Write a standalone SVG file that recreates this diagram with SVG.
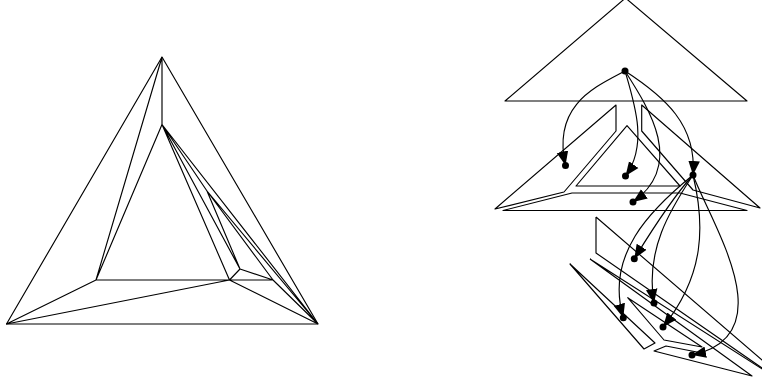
<svg xmlns="http://www.w3.org/2000/svg" width="762" height="383" viewBox="0 0 762 383">
<style>
.s{fill:none;stroke:#000;stroke-width:1.15;stroke-linejoin:round}
.c{fill:none;stroke:#000;stroke-width:1.15;marker-end:url(#a)}
.n{fill:#000;stroke:none}
</style>
<defs>
<marker id="a" markerUnits="userSpaceOnUse" markerWidth="16" markerHeight="14" refX="14" refY="7" orient="auto">
<path d="M0,1.2 L14,7 L0,12.8 Z" fill="#000"/>
</marker>
</defs>
<rect width="762" height="383" fill="#fff"/>
<g id="planar-drawing">
<path class="s" d="M162,57 L6.5,324 L318,324 Z"/>
<path class="s" d="M162,57 L162,124.5 M162,57 L96,280 M162,124.5 L96,280 L229.5,280 L162,124.5 M96,280 L6.5,324 L229.5,280 L318,324 M229.5,280 L240,269 L162,124.5 M162,124.5 L207,191 L240,269 M240,269 L273,280 L229.5,280 M162,124.5 L318,324 M207,191 L318,324 M207,191 L273,280 L318,324"/>
</g>
<g id="layer-top"><path class="s" d="M505,101 L625.5,-2 L747,101 Z"/></g>
<g id="layer-left"><path class="s" d="M616,105 L616,131 L564,192 L495,209 Z"/></g>
<g id="layer-inner"><path class="s" d="M627,125.7 L576,186 L680,186 Z"/></g>
<g id="layer-right"><path class="s" d="M641.7,105 L641.7,131 L693,190 L760,208 Z"/></g>
<g id="layer-base"><path class="s" d="M503,210.5 L572,193 L680,193 L747,210.5 Z"/></g>
<g id="piece-a"><path class="s" d="M596,217 L596,253 L770,373.6 M596,217 L770,367"/></g>
<g id="piece-b"><path class="s" d="M590,259 L770,374 M590,259 L752,376 L654,351 L666,346 L702,353"/></g>
<g id="piece-c"><path class="s" d="M627.7,297.7 L664,340 L702,347 Z"/></g>
<g id="piece-d"><path class="s" d="M570,264 L644,349 L655,343 Z"/></g>
<g id="connectors">
<path class="c" d="M625,71 C595,87 552,105 565.5,165.5"/>
<path class="c" d="M625,71 C635,105 648,145 625.5,176"/>
<path class="c" d="M625,71 C650,110 685,165 633,202"/>
<path class="c" d="M625,71 C665,97 697,125 693,175"/>
<path class="c" d="M693,175 C675,195 655,225 634.3,258.7"/>
<path class="c" d="M693,175 C670,210 645,250 654,303"/>
<path class="c" d="M693,175 C650,210 605,255 623.3,317.7"/>
<path class="c" d="M693,175 C705,225 705,275 663,327"/>
<path class="c" d="M693,175 C712,225 785,335 692,355"/>
</g>
<g id="node-root"><circle class="n" cx="625" cy="71" r="3.5"/></g>
<g id="node-1"><circle class="n" cx="565.5" cy="165.5" r="3.5"/></g>
<g id="node-2"><circle class="n" cx="625.5" cy="176" r="3.5"/></g>
<g id="node-3"><circle class="n" cx="633" cy="202" r="3.5"/></g>
<g id="node-4"><circle class="n" cx="693" cy="175" r="3.5"/></g>
<g id="node-5"><circle class="n" cx="634.3" cy="258.7" r="3.5"/></g>
<g id="node-6"><circle class="n" cx="654" cy="303" r="3.5"/></g>
<g id="node-7"><circle class="n" cx="623.3" cy="317.7" r="3.5"/></g>
<g id="node-8"><circle class="n" cx="663" cy="327" r="3.5"/></g>
<g id="node-9"><circle class="n" cx="692" cy="355" r="3.5"/></g>
</svg>
